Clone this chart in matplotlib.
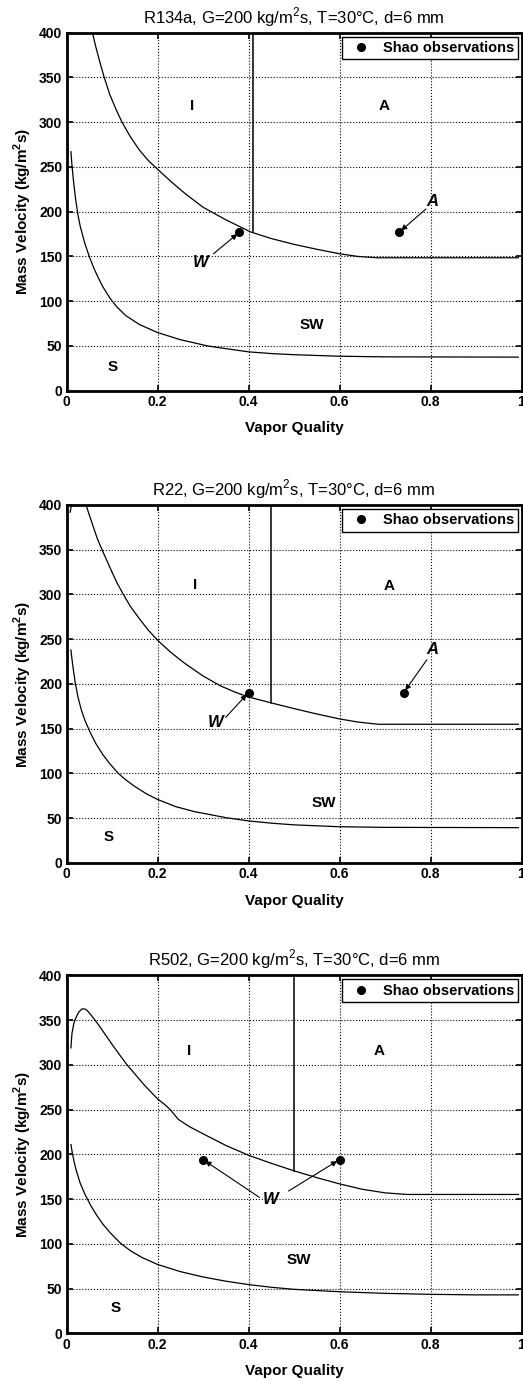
import matplotlib
matplotlib.use('Agg')
import matplotlib.pyplot as plt

plt.rcParams['font.family'] = ['Liberation Sans', 'DejaVu Sans']

titles = ['R134a, G=200 kg/m$^\\mathregular{2}$s, T=30°C, d=6 mm',
          'R22, G=200 kg/m$^\\mathregular{2}$s, T=30°C, d=6 mm',
          'R502, G=200 kg/m$^\\mathregular{2}$s, T=30°C, d=6 mm']

# R134a
up1_x = [0.057, 0.065, 0.075, 0.083, 0.095, 0.11, 0.122, 0.14, 0.16, 0.18, 0.199, 0.23, 0.26, 0.3,
         0.35, 0.404, 0.45, 0.5, 0.55, 0.6, 0.64, 0.682, 0.993]
up1_y = [400, 383, 364, 350, 331, 313, 300, 284, 269, 257, 248, 233.5, 220.5, 205,
         191, 177.5, 170, 163.5, 158, 153, 150, 148.5, 148.5]
lo1_x = [0.0097, 0.012, 0.015, 0.02, 0.025, 0.03, 0.04, 0.05, 0.06, 0.07, 0.08, 0.096, 0.11, 0.13,
         0.16, 0.2, 0.25, 0.31, 0.35, 0.4, 0.45, 0.5, 0.6, 0.7, 0.993]
lo1_y = [267, 252, 236, 214, 197, 184, 165, 150, 137, 126, 116, 103, 94, 84,
         74, 65, 57, 50, 47, 43.4, 41.5, 40.2, 38.5, 37.8, 37.5]
vert1_x, vert1_y = 0.41, 177.5
obs1_x = [0.38, 0.731]
obs1_y = [177, 177]

# R22
up2a_x = [0.008, 0.011]
up2a_y = [392, 400]
up2_x = [0.043, 0.05, 0.06, 0.068, 0.078, 0.09, 0.1, 0.112, 0.125, 0.14, 0.16, 0.18, 0.202, 0.23,
         0.26, 0.3, 0.338, 0.37, 0.4, 0.449, 0.5, 0.55, 0.6, 0.64, 0.685, 0.993]
up2_y = [400, 389, 374, 362, 350, 336.5, 325, 312, 300, 287, 273, 260, 248, 235,
         223, 209, 198, 191, 185.5, 179, 172.5, 166.5, 161, 157.5, 155, 155]
lo2_x = [0.0097, 0.012, 0.015, 0.019, 0.025, 0.032, 0.04, 0.052, 0.065, 0.08, 0.095, 0.114, 0.13,
         0.15, 0.175, 0.2, 0.24, 0.28, 0.352, 0.4, 0.45, 0.5, 0.6, 0.7, 0.993]
lo2_y = [238, 228, 216, 202, 186, 172, 160, 146, 133, 121, 111, 100, 93,
         85.5, 77.5, 71, 63, 57.5, 50.5, 47, 44.5, 42.6, 40.5, 39.8, 39.5]
vert2_x, vert2_y = 0.449, 179
obs2_x = [0.4, 0.741]
obs2_y = [190.4, 190.4]

# R502
up3_x = [0.0097, 0.012, 0.016, 0.02, 0.027, 0.034, 0.04, 0.045, 0.055, 0.07, 0.085, 0.1, 0.117,
         0.133, 0.15, 0.17, 0.185, 0.2, 0.215, 0.228, 0.246, 0.27, 0.3, 0.35, 0.4, 0.45, 0.5,
         0.55, 0.6, 0.65, 0.7, 0.748, 0.993]
up3_y = [319, 335, 346, 352, 359, 362.5, 362.5, 361, 355, 345, 334, 323, 311,
         300, 290, 278, 270, 262, 256, 250, 239, 231, 223, 210, 199, 190, 181.6,
         174, 167, 161, 157, 155.2, 155.2]
lo3_x = [0.0097, 0.013, 0.017, 0.022, 0.03, 0.04, 0.052, 0.065, 0.08, 0.095, 0.118, 0.14, 0.165,
         0.2, 0.25, 0.3, 0.35, 0.4, 0.45, 0.5, 0.6, 0.7, 0.8, 0.9, 0.993]
lo3_y = [211, 201, 191, 181, 168, 156, 144, 133, 122, 113, 101, 92.5, 85,
         77, 69, 63, 58.3, 54.5, 51.5, 49.2, 46.5, 44.7, 43.6, 43, 43]
vert3_x, vert3_y = 0.5, 181.6
obs3_x = [0.3, 0.6]
obs3_y = [194.2, 194.2]

panels = [
    dict(up=[(up1_x, up1_y)], lo=(lo1_x, lo1_y), vert=(vert1_x, vert1_y), obs=(obs1_x, obs1_y),
         regions=[('I', 0.277, 318), ('A', 0.699, 318), ('SW', 0.539, 73), ('S', 0.102, 27)],
         notes=[('W', 0, 0.294, 143, 0.323, 153), ('A', 1, 0.803, 211, 0.79, 203)]),
    dict(up=[(up2a_x, up2a_y), (up2_x, up2_y)], lo=(lo2_x, lo2_y), vert=(vert2_x, vert2_y), obs=(obs2_x, obs2_y),
         regions=[('I', 0.283, 311), ('A', 0.708, 309), ('SW', 0.565, 67), ('S', 0.092, 28.5)],
         notes=[('W', 0, 0.327, 156.6, 0.35, 162.7), ('A', 1, 0.805, 238.7, 0.792, 227)]),
    dict(up=[(up3_x, up3_y)], lo=(lo3_x, lo3_y), vert=(vert3_x, vert3_y), obs=(obs3_x, obs3_y),
         regions=[('I', 0.27, 316), ('A', 0.686, 315.5), ('SW', 0.51, 82), ('S', 0.107, 28)],
         notes=[('W', 0, 0.448, 149.6, 0.424, 151.9), ('', 1, 0.488, 159, 0.488, 159)]),
]

fig = plt.figure(figsize=(5.23, 13.81), dpi=100)
bottoms = [0.7171, 0.3751, 0.0345]

for i, p in enumerate(panels):
    ax = fig.add_axes([66.5 / 523, bottoms[i], 455 / 523, 358 / 1381])
    for xs, ys in p['up']:
        ax.plot(xs, ys, color='black', lw=0.9)
    ax.plot(p['lo'][0], p['lo'][1], color='black', lw=0.9)
    vx, vy = p['vert']
    ax.plot([vx, vx], [vy, 400], color='black', lw=1.1)
    ax.plot(p['obs'][0], p['obs'][1], 'o', color='black', ms=5.5,
            linestyle='none', label='Shao observations')

    for txt, tx, ty in p['regions']:
        ax.text(tx, ty, txt, fontsize=11, fontweight='bold', ha='center', va='center')
    for txt, k, tx, ty, sx, sy in p['notes']:
        if txt:
            ax.text(tx, ty, txt, fontsize=12, fontweight='bold', style='italic',
                    ha='center', va='center')
        ax.annotate('', xy=(p['obs'][0][k], p['obs'][1][k]), xytext=(sx, sy),
                    arrowprops=dict(arrowstyle='-|>', color='black', lw=0.8,
                                    mutation_scale=8, shrinkA=0, shrinkB=2))

    ax.set_xlim(0, 1)
    ax.set_ylim(0, 400)
    ax.set_xticks([0, 0.2, 0.4, 0.6, 0.8, 1])
    ax.set_xticklabels(['0', '0.2', '0.4', '0.6', '0.8', '1'])
    ax.set_yticks(range(0, 401, 50))
    ax.tick_params(direction='in', top=True, right=True, length=4, width=1.2,
                   labelsize=10, pad=3)
    for lab in ax.get_xticklabels() + ax.get_yticklabels():
        lab.set_fontweight('bold')
    ax.grid(True, color='black', linestyle=':', lw=0.8)
    for s in ax.spines.values():
        s.set_linewidth(2)
    ax.set_title(titles[i], fontsize=12, pad=7)
    ax.set_xlabel('Vapor Quality', fontsize=11, fontweight='bold', labelpad=9)
    ax.set_ylabel('Mass Velocity (kg/m$^\\mathregular{2}$s)', fontsize=11, fontweight='bold')
    leg = ax.legend(loc='upper right', bbox_to_anchor=(0.9934, 0.989), borderaxespad=0,
                    fancybox=False, edgecolor='black', framealpha=1, handlelength=2.0,
                    handletextpad=0.5, prop={'weight': 'bold', 'size': 10.5}, borderpad=0.3)
    leg.get_frame().set_linewidth(1)

fig.savefig('out.png', dpi=100)
